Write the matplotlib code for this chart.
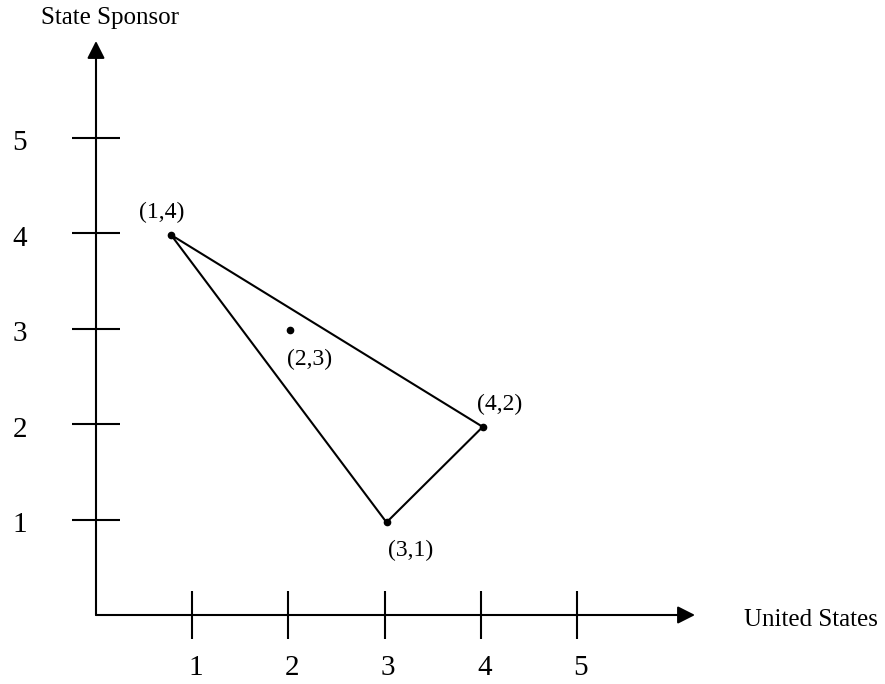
import matplotlib
matplotlib.use("Agg")
import matplotlib.pyplot as plt

# Data
point_labels = ["(1,4)", "(2,3)", "(4,2)", "(3,1)"]
point_x = [0.78, 2.02, 4.02, 3.02]
point_y = [3.98, 2.98, 1.97, 0.97]
triangle_order = [0, 2, 3, 0]  # (1,4) -> (4,2) -> (3,1) -> back
x_ticks = [1, 2, 3, 4, 5]
y_ticks = [1, 2, 3, 4, 5]
x_title = "United States"
y_title = "State Sponsor"

plt.rcParams['font.family'] = ['Liberation Serif', 'DejaVu Serif']

fig = plt.figure(figsize=(8.85, 6.84), dpi=100)
ax = fig.add_axes([0, 0, 1, 1])
# pixel mapping: x px = 96 + 96.2*x ; y px = 615 - 95.5*y
ax.set_xlim(-96 / 96.2, (885 - 96) / 96.2)
ax.set_ylim(-(684 - 615) / 95.5, 615 / 95.5)
ax.axis('off')

lw = 1.5
arrow_style = '-|>,head_length=0.75,head_width=0.38'
ax.annotate('', xy=((695 - 96) / 96.2, 0), xytext=(0, 0),
            arrowprops=dict(arrowstyle=arrow_style, lw=lw, color='black',
                            shrinkA=0, shrinkB=0, mutation_scale=14))
ax.annotate('', xy=(0, (615 - 41) / 95.5), xytext=(0, 0),
            arrowprops=dict(arrowstyle=arrow_style, lw=lw, color='black',
                            shrinkA=0, shrinkB=0, mutation_scale=14))

tick_half_x = 24 / 95.5
tick_half_y = 24 / 96.2
for t in x_ticks:
    ax.plot([t, t], [-tick_half_x, tick_half_x], color='black', lw=lw, solid_capstyle='butt')
    ax.annotate(str(t), xy=(t, 0), xytext=(2.5, -38), textcoords='offset points',
                ha='center', va='center', fontsize=21)
for t in y_ticks:
    ax.plot([-tick_half_y, tick_half_y], [t, t], color='black', lw=lw, solid_capstyle='butt')
    ax.annotate(str(t), xy=(0, t), xytext=(-55, -4), textcoords='offset points',
                ha='center', va='center', fontsize=21)

# triangle
tx = [point_x[i] for i in triangle_order]
ty = [point_y[i] for i in triangle_order]
ax.plot(tx, ty, color='black', lw=lw)
ax.plot(point_x, point_y, 'o', color='black', markersize=4.5)

offsets = [(-7, 16), (14, -21), (12, 16), (17, -20)]
for lab, x, y, off in zip(point_labels, point_x, point_y, offsets):
    ax.annotate(lab, xy=(x, y), xytext=off, textcoords='offset points',
                ha='center', va='center', fontsize=17)

ax.text((110 - 96) / 96.2, (615 - 18) / 95.5, y_title, ha='center', va='center', fontsize=18)
ax.text((811 - 96) / 96.2, (615 - 620) / 95.5, x_title, ha='center', va='center', fontsize=18)

fig.savefig('out.png', dpi=100)
